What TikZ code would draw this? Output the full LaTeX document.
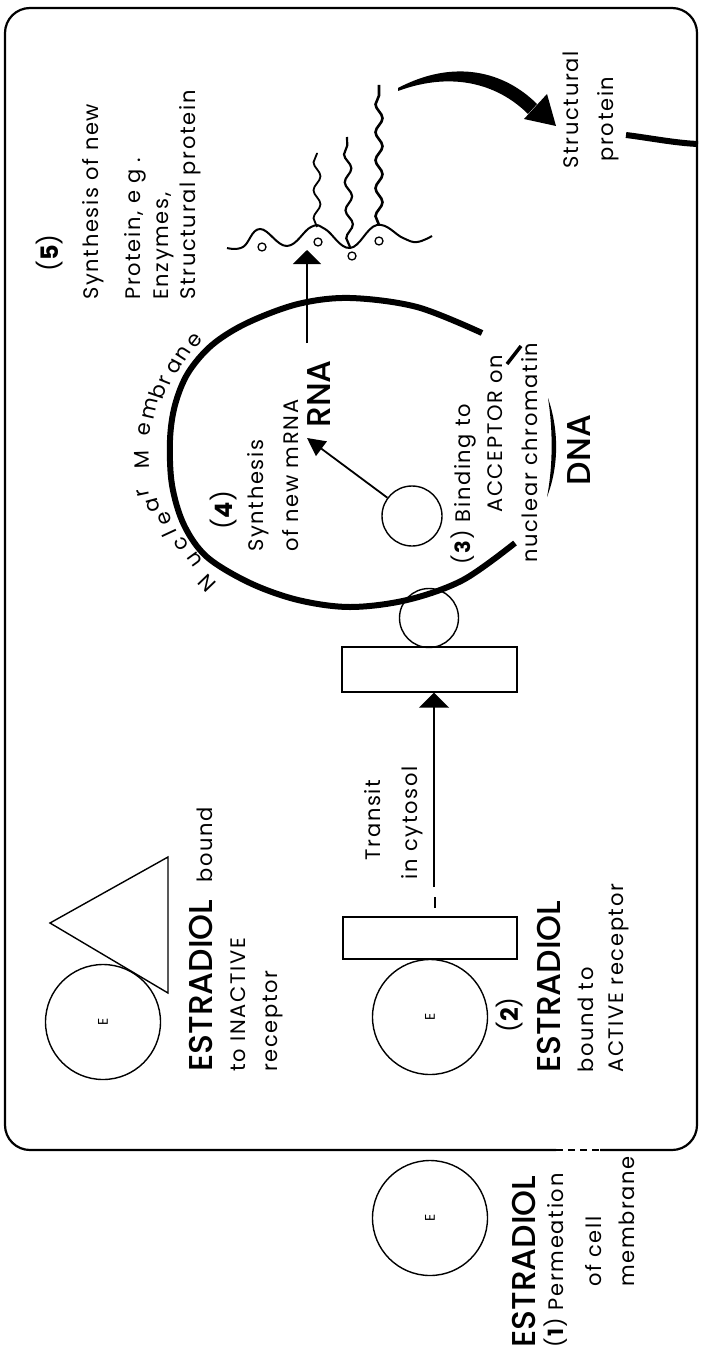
\documentclass[tikz,border=0pt]{standalone}
\usepackage{fontspec}
\setmainfont{Poppins}
\newfontfamily\lt[LetterSpace=8]{Poppins}
\newfontfamily\md{Poppins Medium}
\usetikzlibrary{arrows.meta,decorations.pathmorphing}
\begin{document}
\begin{tikzpicture}[x=1pt,y=-1pt,
  lbl/.style={rotate=90, inner sep=0pt, anchor=base west, font=\lt\fontsize{21}{25}\selectfont},
  lblc/.style={lbl, anchor=base},
  head/.style={rotate=90, inner sep=0pt, anchor=base west, font=\md\fontsize{33}{36}\selectfont},
  bignum/.style={rotate=90, inner sep=0pt, anchor=base, font=\fontsize{24}{26}\selectfont},
  ecirc/.style={circle, draw, line width=1.4pt, minimum size=115pt, inner sep=0pt, font=\fontsize{14}{14}\selectfont, rotate=90},
  thinl/.style={line width=1.4pt},
  box/.style={draw, line width=1.4pt, inner sep=0pt},
  memb/.style={line width=6pt},
  arr/.style={line width=2pt},
  chain/.style={decorate, decoration={snake, amplitude=3.5pt, segment length=28pt}},
  mem/.style={inner sep=0pt, anchor=mid, font=\fontsize{21}{21}\selectfont}
]
\path[use as bounding box] (0,0) rectangle (702,1351);

% cell border
\draw[line width=2.2pt, rounded corners=25pt] (556,1150) -- (5,1150) -- (5,8) -- (697,8) -- (697,1150) -- (600,1150);
\draw[line width=2pt, dash pattern=on 7pt off 5pt] (556,1150) -- (600,1150);

% (1) outside
\node[ecirc] (e1) at (430,1218) {E};
\node[head] (t1a) at (535,1348) {ESTRADIOL};
\node[lbl] (t1b) at (563,1348) {(\textbf{1}) Permeation};
\node[lbl] (t1c) at (601,1287) {of cell};
\node[lbl] (t1d) at (634,1287) {membrane};

% inactive
\node[ecirc] (e2) at (103,1022) {E};
\coordinate (ta) at (50,923);
\coordinate (tb) at (168,857);
\coordinate (tc) at (168,993);
\draw[thinl] (ta) -- (tb) -- (tc) -- cycle;
\node[head] (t2a) at (212,1072) {ESTRADIOL};
\node[lbl] (t2b) at (212,883) {bound};
\node[lbl] (t2c) at (245,1072) {to INACTIVE};
\node[lbl] (t2d) at (277,1072) {receptor};

% (2) active
\node[ecirc] (e3) at (430,1017) {E};
\node[box, minimum width=174pt, minimum height=42pt] (r1) at (430,938) {};
\node[bignum] (n2) at (518,1015) {(\textbf{2})};
\node[head] (t3a) at (560,1073) {ESTRADIOL};
\node[lbl] (t3b) at (593,1073) {bound to};
\node[lbl] (t3c) at (623,1073) {ACTIVE receptor};

% transit
\node[lblc] (tr1) at (380,820) {Transit};
\node[lblc] (tr2) at (417,823) {in cytosol};
\coordinate (d1) at (435,908);
\coordinate (d2) at (435,897);
\draw[arr] (d1) -- (d2);
\coordinate (trs) at (434,887);

% receptor at nucleus
\node[box, minimum width=175pt, minimum height=45pt] (r2) at (429.5,669.5) {};
\node[circle, draw, thinl, minimum size=59pt, inner sep=0pt] (c2) at (429,618) {};
\draw[arr, -{Triangle[width=30pt,length=15pt]}] (trs) -- (trs |- r2.south);

% nuclear membrane
\draw[memb] plot[smooth, tension=0.55] coordinates {(515,543) (463,580) (407,600) (350,607) (298,600) (250,583) (207,557) (184,525) (172,485) (170,440) (175,405) (188,373) (212,345) (247,323) (298,304) (350,298) (417,307) (482,333)};
\foreach \ch/\x/\y/\r [count=\i] in {N/210/580/134, u/197/558/126, c/184/542/120, l/174/531/115, e/168/517/110, a/156/504/105, r/146/492/102, M/146/460/92, e/148/430/83, m/153/409/77, b/162/393/71, r/168/382/68, a/177/368/62, n/186/355/57, e/197/343/52}
  \node[mem, rotate=\r] (nm\i) at (\x,\y) {\ch};

% acceptor
\node[circle, draw, thinl, minimum size=60pt, inner sep=0pt] (c3) at (412,516) {};
\coordinate (mrna) at (307,438);
\draw[line width=1.8pt, -{Triangle[width=18pt,length=18pt]}] (c3) -- (mrna);

\node[bignum] (n4) at (232,510) {(\textbf{4})};
\node[lbl] (t4a) at (263,552) {Synthesis};
\node[lbl] (t4b) at (298,552) {of new mRNA};
\node[rotate=90, inner sep=0pt, anchor=base, font=\md\fontsize{33}{33}\selectfont] (rna) at (330,394) {RNA};

\coordinate (rnat) at (307,343);
\coordinate (poly) at (307,250);
\draw[arr, -{Triangle[width=28pt,length=14pt]}] (rnat) -- (poly);

% (3)
\node[lbl] (t3x) at (470,565) {(\textbf{3}) Binding to};
\node[lbl] (acc) at (502,513) {ACCEPTOR on};
\node[lbl] (chr) at (537,563) {nuclear chromatin};
\node[rotate=90, inner sep=0pt, anchor=base, font=\md\fontsize{33}{33}\selectfont] (dna) at (590,450) {DNA};
\fill (548,398) .. controls (559,430) and (559,466) .. (547,497) .. controls (553,466) and (553,430) .. (548,398) -- cycle;
\coordinate (s1) at (507,364);
\coordinate (s2) at (521,346);
\draw[line width=3.5pt] (s1) -- (s2);

% (5)
\node[bignum] (n5) at (58,253) {(\textbf{5})};
\node[lbl] (t5a) at (98,300) {Synthesis of new};
\node[lbl] (t5b) at (140,300) {Protein, e g .};
\node[lbl] (t5c) at (168,300) {Enzymes,};
\node[lbl] (t5d) at (195,300) {Structural protein};

% polysome
\draw[line width=2pt] plot[smooth, tension=0.7] coordinates {(227,248) (243,247) (260,229) (287,246) (311,227) (325,229) (350,248) (377,225) (403,238) (417,242) (432,236)};
\foreach \p [count=\i] in {(262,247),(318,242),(352,256),(379,241)}
  \node[circle, draw, line width=1.3pt, minimum size=8pt, inner sep=0pt] (rb\i) at \p {};
\draw[line width=1.8pt, chain] (317,227) -- (317,153);
\draw[line width=2.2pt, chain] (350,247) -- (347,137);
\draw[line width=2.6pt, chain] (379,225) -- (379,85);

% structural protein
\node[lblc] (sp1) at (578,110) {Structural};
\node[lblc] (sp2) at (613,119) {protein};
\fill (398,88) .. controls (455,58) and (505,72) .. (537,104) -- (528,114) .. controls (500,86) and (455,70) .. (398,91) -- cycle;
\fill (524,119) -- (547,94) -- (556,126) -- cycle;
\coordinate (sps) at (626,135);
\coordinate (bd) at (698,144);
\draw[line width=6pt] (sps) .. controls (650,138) and (675,143) .. (bd);
\end{tikzpicture}
\end{document}
